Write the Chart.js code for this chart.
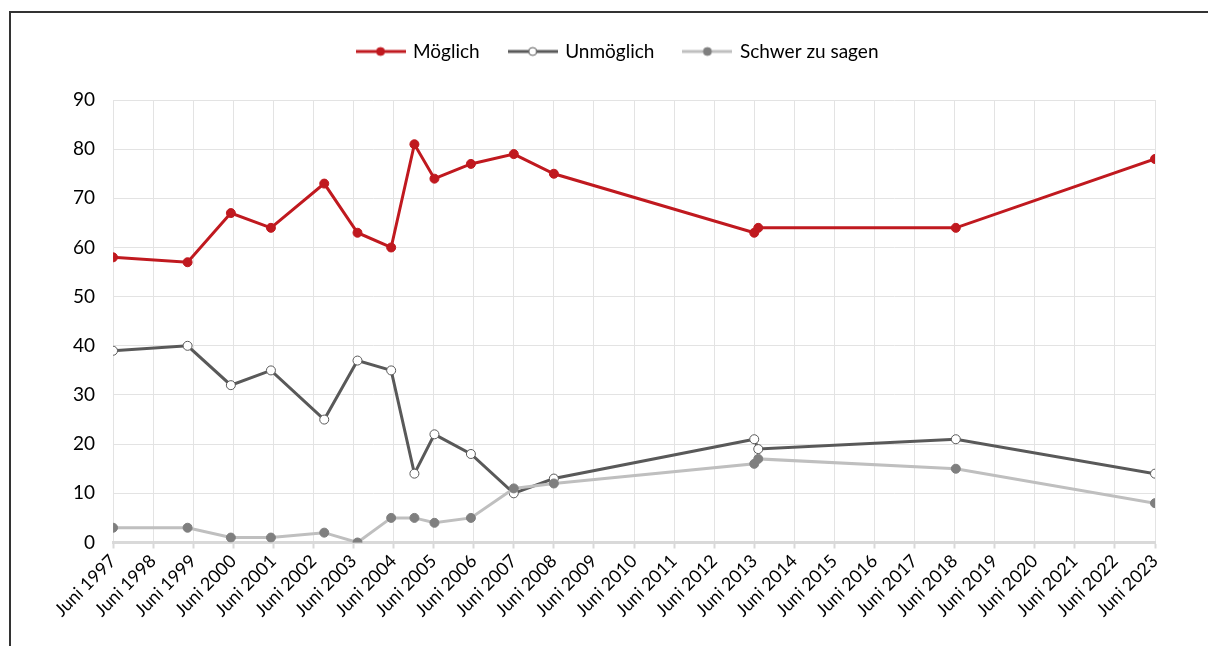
<!DOCTYPE html>
<html>
<head>
<meta charset="utf-8">
<script src="https://cdn.jsdelivr.net/npm/chart.js@4/dist/chart.umd.min.js"></script>
<style>
  html, body { margin: 0; padding: 0; background: #fff; }
  #wrap { position: relative; width: 1208px; height: 646px; overflow: hidden; }
  #frame { position: absolute; left: 9px; top: 11px; width: 1300px; height: 700px;
           border-top: 2px solid #333; border-left: 2px solid #333; box-sizing: border-box; }
  canvas { position: absolute; left: 0; top: 0; }
</style>
</head>
<body>
<div id="wrap">
  <div id="frame"></div>
  <canvas id="chart" width="1208" height="646"></canvas>
</div>
<script>
// survey waves, position in years (Juni of each year = whole number)
const waves = [1997, 1998.86, 1999.94, 2000.94, 2002.27, 2003.1, 2003.94, 2004.52,
               2005.02, 2005.93, 2007, 2008, 2013, 2013.1, 2018.03, 2023];
const moeglich    = [58, 57, 67, 64, 73, 63, 60, 81, 74, 77, 79, 75, 63, 64, 64, 78];
const unmoeglich  = [39, 40, 32, 35, 25, 37, 35, 14, 22, 18, 10, 13, 21, 19, 21, 14];
const schwer      = [3, 3, 1, 1, 2, 0, 5, 5, 4, 5, 11, 12, 16, 17, 15, 8];
const seriesNames = ['Möglich', 'Unmöglich', 'Schwer zu sagen'];

function pts(vals) {
    return vals.map((v, i) => ({x: waves[i], y: v}));
}

// legend swatch: line with marker in the middle
function swatch(lineColor, fill, stroke) {
    let c = document.createElement('canvas');
    c.width = 50; c.height = 12;
    let g = c.getContext('2d');
    g.strokeStyle = lineColor;
    g.lineWidth = 3;
    g.beginPath(); g.moveTo(0, 6); g.lineTo(50, 6); g.stroke();
    g.beginPath(); g.arc(25, 6, 4, 0, Math.PI * 2);
    g.fillStyle = fill; g.fill();
    g.lineWidth = 1; g.strokeStyle = stroke; g.stroke();
    return c;
}
const swatches = [
    swatch('#c0191f', '#c0191f', '#c0191f'),
    swatch('#595959', '#ffffff', '#595959'),
    swatch('#bfbfbf', '#7f7f7f', '#7f7f7f')
];

// extra space under the legend, and nudge it a bit to the right
const legendGap = {
    id: 'legendGap',
    beforeInit(chart) {
        const fit = chart.legend.fit;
        chart.legend.fit = function () {
            fit.bind(chart.legend)();
            this.height += 29;
        };
    },
    afterLayout(chart) {
        chart.legend.left += 13;
        chart.legend.right += 13;
    }
};

Chart.defaults.font.family = 'Lato, "Noto Sans", sans-serif';
Chart.defaults.color = '#000';

new Chart(document.getElementById('chart'), {
    type: 'line',
    data: {
        datasets: [
            {
                label: seriesNames[0],
                data: pts(moeglich),
                borderColor: '#c0191f',
                backgroundColor: '#c0191f',
                borderWidth: 3,
                pointRadius: 4.5,
                pointBorderWidth: 1,
                pointBackgroundColor: '#c0191f',
                pointBorderColor: '#c0191f',
                order: 3
            },
            {
                label: seriesNames[1],
                data: pts(unmoeglich),
                borderColor: '#595959',
                backgroundColor: '#ffffff',
                borderWidth: 3,
                pointRadius: 4.5,
                pointBorderWidth: 1,
                pointBackgroundColor: '#ffffff',
                pointBorderColor: '#595959',
                order: 2
            },
            {
                label: seriesNames[2],
                data: pts(schwer),
                borderColor: '#bfbfbf',
                backgroundColor: '#7f7f7f',
                borderWidth: 3,
                pointRadius: 4.5,
                pointBorderWidth: 1,
                pointBackgroundColor: '#7f7f7f',
                pointBorderColor: '#7f7f7f',
                order: 1
            }
        ]
    },
    options: {
        responsive: false,
        animation: false,
        layout: {
            padding: {top: 12, left: 55, right: 53, bottom: 23}
        },
        plugins: {
            legend: {
                position: 'top',
                labels: {
                    usePointStyle: true,
                    pointStyleWidth: 46,
                    boxHeight: 12,
                    padding: 30,
                    font: {size: 19},
                    color: '#000',
                    generateLabels(chart) {
                        const items = Chart.defaults.plugins.legend.labels.generateLabels(chart);
                        items.forEach(it => { it.pointStyle = swatches[it.datasetIndex]; });
                        return items;
                    },
                    sort: (a, b) => a.datasetIndex - b.datasetIndex
                }
            },
            tooltip: {enabled: false}
        },
        scales: {
            x: {
                type: 'linear',
                min: 1997,
                max: 2023,
                grid: {
                    color: '#e3e3e3',
                    tickLength: 6,
                    tickColor: '#d9d9d9',
                    tickWidth: 2
                },
                border: {color: '#d9d9d9', width: 3},
                ticks: {
                    stepSize: 1,
                    minRotation: 45,
                    maxRotation: 45,
                    autoSkip: false,
                    padding: 2,
                    font: {size: 18},
                    callback: v => 'Juni ' + v
                }
            },
            y: {
                min: 0,
                max: 90,
                grid: {color: '#e3e3e3', drawTicks: false},
                border: {display: false},
                ticks: {
                    stepSize: 10,
                    padding: 18,
                    font: {size: 19}
                }
            }
        }
    },
    plugins: [legendGap]
});
</script>
</body>
</html>
